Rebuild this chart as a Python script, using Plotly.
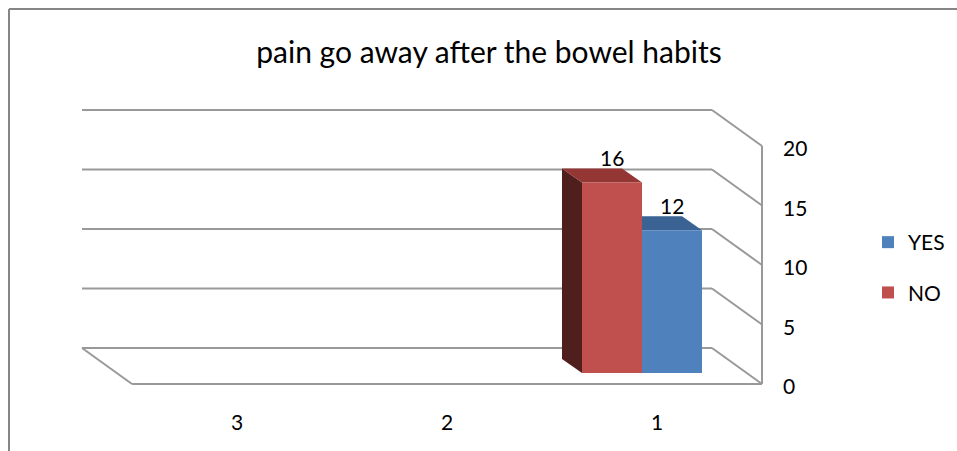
import plotly.graph_objects as go

# ---------------- data ----------------
categories = ["3", "2", "1"]
cat_pos = [0, 1, 2]
yes_values = [None, None, 12]
no_values = [None, None, 16]
y_ticks = [0, 5, 10, 15, 20]
title_text = "pain go away after the bowel habits"

# ---------------- geometry / style constants ----------------
W, H = 957, 451
K = 11.9            # px per value unit (vertical)
CAT_PX = 210        # px per category
BACK_X0, BACK_Y0 = 82, 348     # back-wall left px, back-wall zero px
BAR_SHIFT = (35, 25)           # bar plane offset from back wall (px right, px down)
FRONT_SHIFT = (50, 36)         # front plane offset from back wall
BAR_W = 60 / CAT_PX
DEPTH_DX, DEPTH_DY = -20, 14   # bar depth in px
GRID = "#999999"
FONT = "Lato"

RED, RED_TOP, RED_SIDE = "#C0504D", "#943634", "#4F1F1E"
BLUE, BLUE_TOP, BLUE_SIDE = "#4F81BD", "#3A6292", "#2A466C"


def x_range(px0):
    # axis over full paper: pixel px0 corresponds to category -0.5
    return [-px0 / CAT_PX - 0.5, (W - px0) / CAT_PX - 0.5]


def y_range(py0):
    # pixel py0 corresponds to value 0
    return [(py0 - H) / K, py0 / K]


fig = go.Figure()

# bars (bar plane axes x2/y2)
fig.add_trace(go.Bar(x=cat_pos, y=yes_values, name="YES", marker_color=BLUE,
                     width=BAR_W, offset=0, xaxis="x2", yaxis="y2",
                     legendgroup="yes", marker_line_width=0))
fig.add_trace(go.Bar(x=cat_pos, y=no_values, name="NO", marker_color=RED,
                     width=BAR_W, offset=-BAR_W, xaxis="x2", yaxis="y2",
                     legendgroup="no", marker_line_width=0))

# invisible trace to carry the front-plane tick labels (x3/y3)
fig.add_trace(go.Scatter(x=cat_pos, y=[None] * 3, xaxis="x3", yaxis="y3",
                         showlegend=False, hoverinfo="skip", mode="markers"))

shapes = []
annotations = []

# ---- frame in back-plane coordinates (x/y) ----
fdx = FRONT_SHIFT[0] / CAT_PX
fdy = -FRONT_SHIFT[1] / K
for v in y_ticks:
    shapes.append(dict(type="line", xref="x", yref="y", x0=-0.5, x1=2.5, y0=v, y1=v,
                       line=dict(color=GRID, width=2), layer="below"))
    shapes.append(dict(type="line", xref="x", yref="y", x0=2.5, x1=2.5 + fdx,
                       y0=v, y1=v + fdy, line=dict(color=GRID, width=2), layer="below"))
# floor left edge, front edge, front vertical axis line
shapes.append(dict(type="line", xref="x", yref="y", x0=-0.5, x1=-0.5 + fdx, y0=0, y1=fdy,
                   line=dict(color=GRID, width=2), layer="below"))
shapes.append(dict(type="line", xref="x", yref="y", x0=-0.5 + fdx, x1=2.5 + fdx, y0=fdy, y1=fdy,
                   line=dict(color=GRID, width=2), layer="below"))
shapes.append(dict(type="line", xref="x", yref="y", x0=2.5 + fdx, x1=2.5 + fdx,
                   y0=fdy, y1=max(y_ticks) + fdy, line=dict(color=GRID, width=2), layer="below"))

# ---- 3D faces of bars (bar-plane coords x2/y2) ----
ddx = DEPTH_DX / CAT_PX
ddy = DEPTH_DY / K
series = [(yes_values, 0.0, BLUE_TOP, BLUE_SIDE), (no_values, -BAR_W, RED_TOP, RED_SIDE)]
for vals, off, top_c, side_c in series:
    for p, v in zip(cat_pos, vals):
        if v is None:
            continue
        x0 = p + off
        x1 = x0 + BAR_W
        side = (f"M{x0},0 L{x0},{v} L{x0 + ddx},{v + ddy} L{x0 + ddx},{ddy} Z")
        top = (f"M{x0},{v} L{x1},{v} L{x1 + ddx},{v + ddy} L{x0 + ddx},{v + ddy} Z")
        shapes.append(dict(type="path", path=side, xref="x2", yref="y2",
                           fillcolor=side_c, line=dict(width=0), layer="below"))
        shapes.append(dict(type="path", path=top, xref="x2", yref="y2",
                           fillcolor=top_c, line=dict(width=0), layer="below"))
        annotations.append(dict(x=x0 + BAR_W / 2, y=v, xref="x2", yref="y2", text=str(v),
                                showarrow=False, yshift=25, yanchor="middle",
                                font=dict(family=FONT, size=21, color="black")))

# outer chart border (top and left visible)
shapes.append(dict(type="line", xref="paper", yref="paper", x0=9 / W, x1=1, y0=1 - 9 / H, y1=1 - 9 / H,
                   line=dict(color="#868686", width=2)))
shapes.append(dict(type="line", xref="paper", yref="paper", x0=9 / W, x1=9 / W, y0=0, y1=1 - 9 / H,
                   line=dict(color="#868686", width=2)))

hidden = dict(showgrid=False, zeroline=False, showticklabels=False, ticks="",
              showline=False, fixedrange=True, automargin=False)

bx_px = BACK_X0 + BAR_SHIFT[0]
by_px = BACK_Y0 + BAR_SHIFT[1]
fx0 = BACK_X0 + FRONT_SHIFT[0]
fy0 = BACK_Y0 + FRONT_SHIFT[1]
fx1 = fx0 + 3 * CAT_PX
fy1 = fy0 - max(y_ticks) * K

fig.update_layout(
    width=W, height=H, autosize=False,
    margin=dict(l=0, r=0, t=0, b=0, pad=0, autoexpand=False),
    paper_bgcolor="white", plot_bgcolor="rgba(0,0,0,0)",
    font=dict(family=FONT, color="black"),
    title=dict(text=title_text, x=489 / W, xanchor="center", y=1 - 52 / H, yanchor="middle",
               font=dict(family=FONT, size=30, color="black"), automargin=False),
    barmode="overlay",
    xaxis=dict(domain=[0, 1], range=x_range(BACK_X0), **hidden),
    yaxis=dict(domain=[0, 1], range=y_range(BACK_Y0), **hidden),
    xaxis2=dict(domain=[0, 1], range=x_range(bx_px), anchor="y2", **hidden),
    yaxis2=dict(domain=[0, 1], range=y_range(by_px), anchor="x2", **hidden),
    xaxis3=dict(domain=[fx0 / W, fx1 / W], range=[-0.5, 2.5], anchor="y3",
                tickmode="array", tickvals=cat_pos, ticktext=categories,
                showgrid=False, zeroline=False, showline=False, ticks="",
                ticklabelstandoff=24, tickfont=dict(family=FONT, size=21, color="black"),
                fixedrange=True, automargin=False),
    yaxis3=dict(domain=[1 - fy0 / H, 1 - fy1 / H], range=[0, max(y_ticks)], anchor="x3",
                side="right", tickmode="array", tickvals=y_ticks,
                showgrid=False, zeroline=False, showline=False, ticks="",
                ticklabelstandoff=20, ticklabelshift=3,
                tickfont=dict(family=FONT, size=21, color="black"), fixedrange=True,
                automargin=False),
    shapes=shapes,
    annotations=annotations,
    showlegend=True,
    legend=dict(x=868 / W, xanchor="left", y=1 - 222 / H, yanchor="top",
                traceorder="grouped", tracegroupgap=20,
                font=dict(family=FONT, size=21, color="black"),
                bgcolor="rgba(0,0,0,0)", itemwidth=30),
)

fig.write_html("out.html")
